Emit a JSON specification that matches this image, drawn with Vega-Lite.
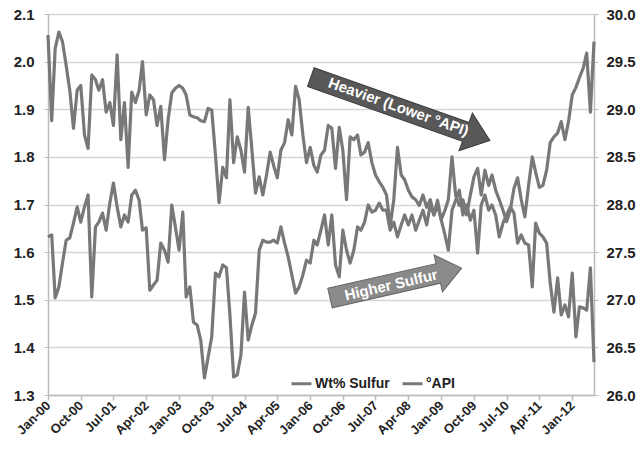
{
  "$schema": "https://vega.github.io/schema/vega-lite/v6.json",
  "width": 546,
  "height": 381,
  "autosize": {"type": "none"},
  "padding": {"left": 48, "top": 14, "right": 47, "bottom": 55},
  "background": "#ffffff",
  "config": {"view": {"stroke": null}, "font": "Liberation Sans"},
  "datasets": {
    "crude": [
      {"date":"2000-01-01","sulfur":1.632,"api":29.78},
      {"date":"2000-02-01","sulfur":1.636,"api":28.88},
      {"date":"2000-03-01","sulfur":1.504,"api":29.64},
      {"date":"2000-04-01","sulfur":1.527,"api":29.81},
      {"date":"2000-05-01","sulfur":1.577,"api":29.71},
      {"date":"2000-06-01","sulfur":1.625,"api":29.46},
      {"date":"2000-07-01","sulfur":1.630,"api":29.20},
      {"date":"2000-08-01","sulfur":1.661,"api":28.80},
      {"date":"2000-09-01","sulfur":1.695,"api":29.20},
      {"date":"2000-10-01","sulfur":1.663,"api":29.25},
      {"date":"2000-11-01","sulfur":1.695,"api":28.73},
      {"date":"2000-12-01","sulfur":1.720,"api":28.59},
      {"date":"2001-01-01","sulfur":1.506,"api":29.36},
      {"date":"2001-02-01","sulfur":1.653,"api":29.31},
      {"date":"2001-03-01","sulfur":1.663,"api":29.20},
      {"date":"2001-04-01","sulfur":1.682,"api":29.31},
      {"date":"2001-05-01","sulfur":1.646,"api":28.97},
      {"date":"2001-06-01","sulfur":1.703,"api":29.07},
      {"date":"2001-07-01","sulfur":1.745,"api":28.83},
      {"date":"2001-08-01","sulfur":1.695,"api":29.57},
      {"date":"2001-09-01","sulfur":1.653,"api":28.68},
      {"date":"2001-10-01","sulfur":1.678,"api":29.07},
      {"date":"2001-11-01","sulfur":1.663,"api":28.39},
      {"date":"2001-12-01","sulfur":1.720,"api":29.18},
      {"date":"2002-01-01","sulfur":1.730,"api":29.07},
      {"date":"2002-02-01","sulfur":1.709,"api":29.20},
      {"date":"2002-03-01","sulfur":1.646,"api":29.50},
      {"date":"2002-04-01","sulfur":1.651,"api":28.94},
      {"date":"2002-05-01","sulfur":1.520,"api":29.15},
      {"date":"2002-06-01","sulfur":1.531,"api":29.10},
      {"date":"2002-07-01","sulfur":1.541,"api":28.83},
      {"date":"2002-08-01","sulfur":1.619,"api":29.03},
      {"date":"2002-09-01","sulfur":1.604,"api":28.47},
      {"date":"2002-10-01","sulfur":1.579,"api":28.89},
      {"date":"2002-11-01","sulfur":1.699,"api":29.17},
      {"date":"2002-12-01","sulfur":1.653,"api":29.22},
      {"date":"2003-01-01","sulfur":1.604,"api":29.25},
      {"date":"2003-02-01","sulfur":1.684,"api":29.22},
      {"date":"2003-03-01","sulfur":1.506,"api":29.15},
      {"date":"2003-04-01","sulfur":1.527,"api":28.94},
      {"date":"2003-05-01","sulfur":1.453,"api":28.92},
      {"date":"2003-06-01","sulfur":1.447,"api":28.91},
      {"date":"2003-07-01","sulfur":1.415,"api":28.88},
      {"date":"2003-08-01","sulfur":1.336,"api":28.87},
      {"date":"2003-09-01","sulfur":1.380,"api":29.01},
      {"date":"2003-10-01","sulfur":1.422,"api":28.99},
      {"date":"2003-11-01","sulfur":1.556,"api":28.52},
      {"date":"2003-12-01","sulfur":1.548,"api":28.02},
      {"date":"2004-01-01","sulfur":1.573,"api":28.39},
      {"date":"2004-02-01","sulfur":1.567,"api":28.28},
      {"date":"2004-03-01","sulfur":1.468,"api":29.10},
      {"date":"2004-04-01","sulfur":1.338,"api":28.44},
      {"date":"2004-05-01","sulfur":1.342,"api":28.71},
      {"date":"2004-06-01","sulfur":1.384,"api":28.57},
      {"date":"2004-07-01","sulfur":1.516,"api":28.34},
      {"date":"2004-08-01","sulfur":1.415,"api":29.02},
      {"date":"2004-09-01","sulfur":1.447,"api":28.57},
      {"date":"2004-10-01","sulfur":1.472,"api":28.12},
      {"date":"2004-11-01","sulfur":1.604,"api":28.29},
      {"date":"2004-12-01","sulfur":1.625,"api":28.10},
      {"date":"2005-01-01","sulfur":1.621,"api":28.31},
      {"date":"2005-02-01","sulfur":1.621,"api":28.55},
      {"date":"2005-03-01","sulfur":1.625,"api":28.41},
      {"date":"2005-04-01","sulfur":1.619,"api":28.28},
      {"date":"2005-05-01","sulfur":1.653,"api":28.57},
      {"date":"2005-06-01","sulfur":1.619,"api":28.65},
      {"date":"2005-07-01","sulfur":1.590,"api":28.89},
      {"date":"2005-08-01","sulfur":1.552,"api":28.73},
      {"date":"2005-09-01","sulfur":1.514,"api":29.24},
      {"date":"2005-10-01","sulfur":1.527,"api":29.10},
      {"date":"2005-11-01","sulfur":1.552,"api":28.73},
      {"date":"2005-12-01","sulfur":1.583,"api":28.44},
      {"date":"2006-01-01","sulfur":1.577,"api":28.60},
      {"date":"2006-02-01","sulfur":1.625,"api":28.41},
      {"date":"2006-03-01","sulfur":1.615,"api":28.34},
      {"date":"2006-04-01","sulfur":1.646,"api":28.52},
      {"date":"2006-05-01","sulfur":1.678,"api":28.57},
      {"date":"2006-06-01","sulfur":1.615,"api":28.83},
      {"date":"2006-07-01","sulfur":1.678,"api":28.80},
      {"date":"2006-08-01","sulfur":1.573,"api":28.38},
      {"date":"2006-09-01","sulfur":1.548,"api":28.81},
      {"date":"2006-10-01","sulfur":1.646,"api":28.57},
      {"date":"2006-11-01","sulfur":1.604,"api":28.05},
      {"date":"2006-12-01","sulfur":1.577,"api":28.71},
      {"date":"2007-01-01","sulfur":1.604,"api":28.68},
      {"date":"2007-02-01","sulfur":1.653,"api":28.73},
      {"date":"2007-03-01","sulfur":1.646,"api":28.52},
      {"date":"2007-04-01","sulfur":1.663,"api":28.55},
      {"date":"2007-05-01","sulfur":1.699,"api":28.65},
      {"date":"2007-06-01","sulfur":1.684,"api":28.44},
      {"date":"2007-07-01","sulfur":1.688,"api":28.31},
      {"date":"2007-08-01","sulfur":1.703,"api":28.24},
      {"date":"2007-09-01","sulfur":1.688,"api":28.18},
      {"date":"2007-10-01","sulfur":1.688,"api":28.10},
      {"date":"2007-11-01","sulfur":1.646,"api":27.78},
      {"date":"2007-12-01","sulfur":1.663,"api":28.05},
      {"date":"2008-01-01","sulfur":1.632,"api":28.60},
      {"date":"2008-02-01","sulfur":1.657,"api":28.31},
      {"date":"2008-03-01","sulfur":1.678,"api":28.26},
      {"date":"2008-04-01","sulfur":1.657,"api":28.15},
      {"date":"2008-05-01","sulfur":1.678,"api":28.08},
      {"date":"2008-06-01","sulfur":1.646,"api":28.05},
      {"date":"2008-07-01","sulfur":1.667,"api":27.99},
      {"date":"2008-08-01","sulfur":1.688,"api":28.10},
      {"date":"2008-09-01","sulfur":1.657,"api":27.97},
      {"date":"2008-10-01","sulfur":1.699,"api":28.05},
      {"date":"2008-11-01","sulfur":1.678,"api":27.89},
      {"date":"2008-12-01","sulfur":1.709,"api":27.99},
      {"date":"2009-01-01","sulfur":1.667,"api":27.84},
      {"date":"2009-02-01","sulfur":1.636,"api":27.94},
      {"date":"2009-03-01","sulfur":1.604,"api":28.05},
      {"date":"2009-04-01","sulfur":1.688,"api":28.50},
      {"date":"2009-05-01","sulfur":1.709,"api":28.10},
      {"date":"2009-06-01","sulfur":1.730,"api":27.99},
      {"date":"2009-07-01","sulfur":1.678,"api":28.05},
      {"date":"2009-08-01","sulfur":1.699,"api":27.89},
      {"date":"2009-09-01","sulfur":1.667,"api":28.10},
      {"date":"2009-10-01","sulfur":1.688,"api":28.29},
      {"date":"2009-11-01","sulfur":1.598,"api":28.38},
      {"date":"2009-12-01","sulfur":1.699,"api":28.10},
      {"date":"2010-01-01","sulfur":1.720,"api":28.36},
      {"date":"2010-02-01","sulfur":1.688,"api":28.20},
      {"date":"2010-03-01","sulfur":1.699,"api":28.31},
      {"date":"2010-04-01","sulfur":1.678,"api":28.15},
      {"date":"2010-05-01","sulfur":1.632,"api":28.05},
      {"date":"2010-06-01","sulfur":1.661,"api":27.94},
      {"date":"2010-07-01","sulfur":1.678,"api":27.82},
      {"date":"2010-08-01","sulfur":1.695,"api":27.94},
      {"date":"2010-09-01","sulfur":1.682,"api":28.17},
      {"date":"2010-10-01","sulfur":1.619,"api":28.28},
      {"date":"2010-11-01","sulfur":1.636,"api":28.05},
      {"date":"2010-12-01","sulfur":1.619,"api":27.87},
      {"date":"2011-01-01","sulfur":1.615,"api":28.20},
      {"date":"2011-02-01","sulfur":1.527,"api":28.50},
      {"date":"2011-03-01","sulfur":1.661,"api":28.34},
      {"date":"2011-04-01","sulfur":1.640,"api":28.18},
      {"date":"2011-05-01","sulfur":1.632,"api":28.20},
      {"date":"2011-06-01","sulfur":1.619,"api":28.36},
      {"date":"2011-07-01","sulfur":1.535,"api":28.65},
      {"date":"2011-08-01","sulfur":1.474,"api":28.71},
      {"date":"2011-09-01","sulfur":1.546,"api":28.75},
      {"date":"2011-10-01","sulfur":1.468,"api":28.87},
      {"date":"2011-11-01","sulfur":1.489,"api":28.68},
      {"date":"2011-12-01","sulfur":1.464,"api":28.87},
      {"date":"2012-01-01","sulfur":1.556,"api":29.15},
      {"date":"2012-02-01","sulfur":1.422,"api":29.23},
      {"date":"2012-03-01","sulfur":1.485,"api":29.33},
      {"date":"2012-04-01","sulfur":1.483,"api":29.43},
      {"date":"2012-05-01","sulfur":1.478,"api":29.59},
      {"date":"2012-06-01","sulfur":1.567,"api":28.97},
      {"date":"2012-07-01","sulfur":1.369,"api":29.71}
    ],
    "arrow1": [{"date":"2008-01-25","y":1.901}],
    "arrow1text": [{"date":"2008-01-10","y":1.905,"label":"Heavier (Lower °API)"}],
    "arrow2": [{"date":"2007-12-18","y":1.535}],
    "arrow2text": [{"date":"2007-11-09","y":1.531,"label":"Higher Sulfur"}]
  },
  "encoding": {
    "x": {"field": "date", "type": "temporal",
      "scale": {"type": "utc", "domain": [{"year":2000,"month":1,"date":1,"utc":true},{"year":2012,"month":7,"date":1,"utc":true}]},
      "axis": {"title": null, "labelExpr": "utcFormat(datum.value, '%b-%y')",
        "values": [
          {"year":2000,"month":1,"date":1,"utc":true},
          {"year":2000,"month":10,"date":1,"utc":true},
          {"year":2001,"month":7,"date":1,"utc":true},
          {"year":2002,"month":4,"date":1,"utc":true},
          {"year":2003,"month":1,"date":1,"utc":true},
          {"year":2003,"month":10,"date":1,"utc":true},
          {"year":2004,"month":7,"date":1,"utc":true},
          {"year":2005,"month":4,"date":1,"utc":true},
          {"year":2006,"month":1,"date":1,"utc":true},
          {"year":2006,"month":10,"date":1,"utc":true},
          {"year":2007,"month":7,"date":1,"utc":true},
          {"year":2008,"month":4,"date":1,"utc":true},
          {"year":2009,"month":1,"date":1,"utc":true},
          {"year":2009,"month":10,"date":1,"utc":true},
          {"year":2010,"month":7,"date":1,"utc":true},
          {"year":2011,"month":4,"date":1,"utc":true},
          {"year":2012,"month":1,"date":1,"utc":true}
        ],
        "labelAngle": -45, "labelAlign": "right", "labelBaseline": "middle",
        "labelFontSize": 13, "labelFontWeight": "bold", "labelColor": "#222222",
        "labelFlush": false, "labelOverlap": false, "labelPadding": 3,
        "tickColor": "#bbbbbb", "tickSize": 5, "tickWidth": 1.5,
        "domainColor": "#bbbbbb", "domainWidth": 1.5, "grid": false}}
  },
  "layer": [
    {
      "layer": [
        {
          "data": {"name": "crude"},
          "mark": {"type": "line", "strokeWidth": 3.2, "strokeJoin": "round"},
          "encoding": {
            "y": {"field": "sulfur", "type": "quantitative",
              "scale": {"domain": [1.3, 2.1], "nice": false, "zero": false},
              "axis": {"title": null, "values": [1.3,1.4,1.5,1.6,1.7,1.8,1.9,2.0,2.1], "format": ".1f",
                "labelFontSize": 15, "labelFontWeight": "bold", "labelColor": "#222222", "labelPadding": 10,
                "grid": true, "gridColor": "#d6d6d6", "gridWidth": 1.5,
                "tickColor": "#bbbbbb", "tickSize": 4, "domainColor": "#bbbbbb", "domainWidth": 1.5}},
            "color": {"datum": "Wt% Sulfur", "type": "nominal",
              "scale": {"domain": ["Wt% Sulfur", "°API"], "range": ["#787878", "#787878"]},
              "legend": {"title": null, "orient": "none", "legendX": 242, "legendY": 358, "direction": "horizontal",
                "labelFontSize": 14, "labelFontWeight": "bold", "labelColor": "#222222", "labelOffset": 2,
                "symbolType": "stroke", "symbolStrokeWidth": 3, "symbolSize": 400, "columnPadding": 6, "padding": 0}}
          }
        },
        {
          "data": {"name": "arrow1"},
          "mark": {"type": "point", "shape": "M -1 -0.105 L 0.73 -0.105 L 0.73 -0.21 L 1 0 L 0.73 0.21 L 0.73 0.105 L -1 0.105 Z",
            "angle": 19.5, "size": 36100, "filled": true, "fill": "#585858", "stroke": "#3c3c3c", "strokeWidth": 1, "opacity": 1},
          "encoding": {
            "y": {"field": "y", "type": "quantitative",
              "scale": {"domain": [1.3, 2.1], "nice": false, "zero": false},
              "axis": {"title": null, "values": [1.3,1.4,1.5,1.6,1.7,1.8,1.9,2.0,2.1], "format": ".1f",
                "labelFontSize": 15, "labelFontWeight": "bold", "labelColor": "#222222", "labelPadding": 10,
                "grid": true, "gridColor": "#d6d6d6", "gridWidth": 1.5,
                "tickColor": "#bbbbbb", "tickSize": 4, "domainColor": "#bbbbbb", "domainWidth": 1.5}}
          }
        },
        {
          "data": {"name": "arrow1text"},
          "mark": {"type": "text", "angle": 19.5, "fontSize": 15, "fontWeight": "bold", "fill": "#ffffff", "align": "center", "baseline": "middle"},
          "encoding": {
            "y": {"field": "y", "type": "quantitative",
              "scale": {"domain": [1.3, 2.1], "nice": false, "zero": false},
              "axis": {"title": null, "values": [1.3,1.4,1.5,1.6,1.7,1.8,1.9,2.0,2.1], "format": ".1f",
                "labelFontSize": 15, "labelFontWeight": "bold", "labelColor": "#222222", "labelPadding": 10,
                "grid": true, "gridColor": "#d6d6d6", "gridWidth": 1.5,
                "tickColor": "#bbbbbb", "tickSize": 4, "domainColor": "#bbbbbb", "domainWidth": 1.5}},
            "text": {"field": "label"}
          }
        },
        {
          "data": {"name": "arrow2"},
          "mark": {"type": "point", "shape": "M -1 -0.148 L 0.645 -0.148 L 0.645 -0.28 L 1 0 L 0.645 0.28 L 0.645 0.148 L -1 0.148 Z",
            "angle": -12.8, "size": 18225, "filled": true, "fill": "#8a8a8a", "stroke": "#666666", "strokeWidth": 1, "opacity": 1},
          "encoding": {
            "y": {"field": "y", "type": "quantitative",
              "scale": {"domain": [1.3, 2.1], "nice": false, "zero": false},
              "axis": {"title": null, "values": [1.3,1.4,1.5,1.6,1.7,1.8,1.9,2.0,2.1], "format": ".1f",
                "labelFontSize": 15, "labelFontWeight": "bold", "labelColor": "#222222", "labelPadding": 10,
                "grid": true, "gridColor": "#d6d6d6", "gridWidth": 1.5,
                "tickColor": "#bbbbbb", "tickSize": 4, "domainColor": "#bbbbbb", "domainWidth": 1.5}}
          }
        },
        {
          "data": {"name": "arrow2text"},
          "mark": {"type": "text", "angle": -13, "fontSize": 15, "fontWeight": "bold", "fill": "#ffffff", "align": "center", "baseline": "middle"},
          "encoding": {
            "y": {"field": "y", "type": "quantitative",
              "scale": {"domain": [1.3, 2.1], "nice": false, "zero": false},
              "axis": {"title": null, "values": [1.3,1.4,1.5,1.6,1.7,1.8,1.9,2.0,2.1], "format": ".1f",
                "labelFontSize": 15, "labelFontWeight": "bold", "labelColor": "#222222", "labelPadding": 10,
                "grid": true, "gridColor": "#d6d6d6", "gridWidth": 1.5,
                "tickColor": "#bbbbbb", "tickSize": 4, "domainColor": "#bbbbbb", "domainWidth": 1.5}},
            "text": {"field": "label"}
          }
        }
      ]
    },
    {
      "data": {"name": "crude"},
      "mark": {"type": "line", "strokeWidth": 3.2, "strokeJoin": "round"},
      "encoding": {
        "y": {"field": "api", "type": "quantitative",
          "scale": {"domain": [26, 30], "nice": false, "zero": false},
          "axis": {"orient": "right", "title": null, "values": [26,26.5,27,27.5,28,28.5,29,29.5,30], "format": ".1f",
            "labelFontSize": 15, "labelFontWeight": "bold", "labelColor": "#222222", "labelPadding": 8,
            "grid": false, "tickColor": "#bbbbbb", "tickSize": 4, "domainColor": "#bbbbbb", "domainWidth": 1.5}},
        "color": {"datum": "°API", "type": "nominal"}
      }
    }
  ],
  "resolve": {"scale": {"y": "independent"}}
}
